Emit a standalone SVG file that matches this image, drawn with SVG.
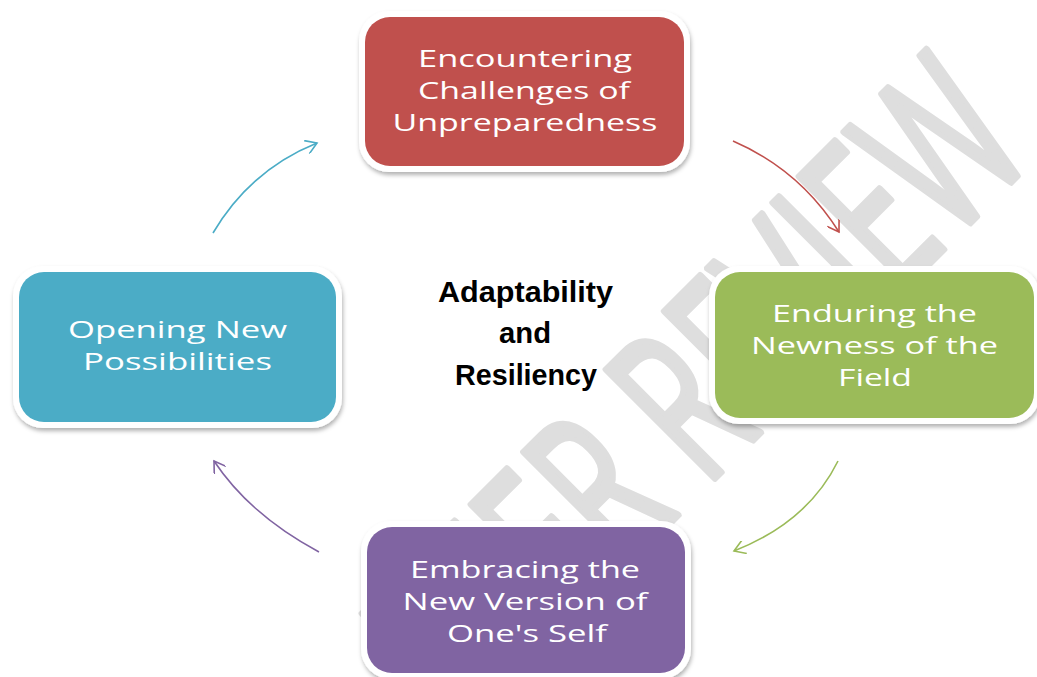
<svg xmlns="http://www.w3.org/2000/svg" width="1037" height="677" viewBox="0 0 1037 677">
<defs>
<style>
.wm{font-family:"Open Sans","DejaVu Sans",sans-serif;font-size:215px;fill:#dedede;stroke:#dedede;stroke-width:7;stroke-linejoin:round}
.lbl{font-family:"Open Sans","DejaVu Sans",sans-serif;font-size:24px;fill:#ffffff;text-anchor:middle}
.ctr{font-family:"Liberation Sans",Arial,sans-serif;font-weight:bold;font-size:30px;fill:#000000;text-anchor:middle}
.frame{fill:#ffffff;filter:url(#sh)}
.con{fill:none;stroke-width:1.6}
</style>
<filter id="sh" x="-10%" y="-10%" width="120%" height="130%">
<feDropShadow dx="1" dy="3" stdDeviation="2" flood-color="#000000" flood-opacity="0.3"/>
</filter>
<marker id="mr" viewBox="0 0 14 14" refX="12" refY="7" markerWidth="14" markerHeight="14" markerUnits="userSpaceOnUse" orient="auto"><path d="M1,0 L12,7 L1,14" fill="none" stroke="#c0504d" stroke-width="1.6"/></marker>
<marker id="mg" viewBox="0 0 14 14" refX="12" refY="7" markerWidth="14" markerHeight="14" markerUnits="userSpaceOnUse" orient="auto"><path d="M1,0 L12,7 L1,14" fill="none" stroke="#9bbb59" stroke-width="1.6"/></marker>
<marker id="mp" viewBox="0 0 14 14" refX="12" refY="7" markerWidth="14" markerHeight="14" markerUnits="userSpaceOnUse" orient="auto"><path d="M1,0 L12,7 L1,14" fill="none" stroke="#8064a2" stroke-width="1.6"/></marker>
<marker id="mb" viewBox="0 0 14 14" refX="12" refY="7" markerWidth="14" markerHeight="14" markerUnits="userSpaceOnUse" orient="auto"><path d="M1,0 L12,7 L1,14" fill="none" stroke="#4bacc6" stroke-width="1.6"/></marker>
</defs>
<rect width="1037" height="677" fill="#ffffff"/>
<g id="watermark">
<text class="wm" text-anchor="middle" transform="translate(749,444) rotate(-45) scale(0.62,1)">PEER REVIEW</text>
</g>
<g id="connectors">
<path class="con" stroke="#c0504d" d="M733,141 Q800,170 839,232" marker-end="url(#mr)"/>
<path class="con" stroke="#9bbb59" d="M838,461 Q808,522 734,551" marker-end="url(#mg)"/>
<path class="con" stroke="#8064a2" d="M319,552 Q250,515 214,461" marker-end="url(#mp)"/>
<path class="con" stroke="#4bacc6" d="M213,233 Q250,170 317,143" marker-end="url(#mb)"/>
</g>
<g id="node-encountering">
<rect class="frame" x="359" y="11" width="331" height="161" rx="30"/>
<rect x="365" y="17" width="319" height="149" rx="25" fill="#c0504d"/>
<text class="lbl" x="525" y="67" textLength="214" lengthAdjust="spacingAndGlyphs">Encountering</text>
<text class="lbl" x="524" y="99" textLength="212" lengthAdjust="spacingAndGlyphs">Challenges of</text>
<text class="lbl" x="525" y="131" textLength="265" lengthAdjust="spacingAndGlyphs">Unpreparedness</text>
</g>
<g id="node-enduring">
<rect class="frame" x="709" y="266" width="331" height="158" rx="30"/>
<rect x="715" y="272" width="319" height="146" rx="25" fill="#9bbb59"/>
<text class="lbl" x="874.5" y="322" textLength="205" lengthAdjust="spacingAndGlyphs">Enduring the</text>
<text class="lbl" x="874.5" y="354" textLength="247" lengthAdjust="spacingAndGlyphs">Newness of the</text>
<text class="lbl" x="875" y="386" textLength="74" lengthAdjust="spacingAndGlyphs">Field</text>
</g>
<g id="node-embracing">
<rect class="frame" x="361" y="521" width="330" height="158" rx="30"/>
<rect x="367" y="527" width="318" height="146" rx="25" fill="#8064a2"/>
<text class="lbl" x="525" y="578" textLength="230" lengthAdjust="spacingAndGlyphs">Embracing the</text>
<text class="lbl" x="525" y="610" textLength="245" lengthAdjust="spacingAndGlyphs">New Version of</text>
<text class="lbl" x="527" y="642" textLength="160" lengthAdjust="spacingAndGlyphs">One's Self</text>
</g>
<g id="node-opening">
<rect class="frame" x="13" y="266" width="329" height="162" rx="30"/>
<rect x="19" y="272" width="317" height="150" rx="25" fill="#4bacc6"/>
<text class="lbl" x="177.5" y="338" textLength="219" lengthAdjust="spacingAndGlyphs">Opening New</text>
<text class="lbl" x="177.5" y="370" textLength="189" lengthAdjust="spacingAndGlyphs">Possibilities</text>
</g>
<g id="center-label">
<text class="ctr" x="525.5" y="302" textLength="175" lengthAdjust="spacingAndGlyphs">Adaptability</text>
<text class="ctr" x="525" y="343" textLength="52" lengthAdjust="spacingAndGlyphs">and</text>
<text class="ctr" x="526" y="385" textLength="142" lengthAdjust="spacingAndGlyphs">Resiliency</text>
</g>
</svg>
